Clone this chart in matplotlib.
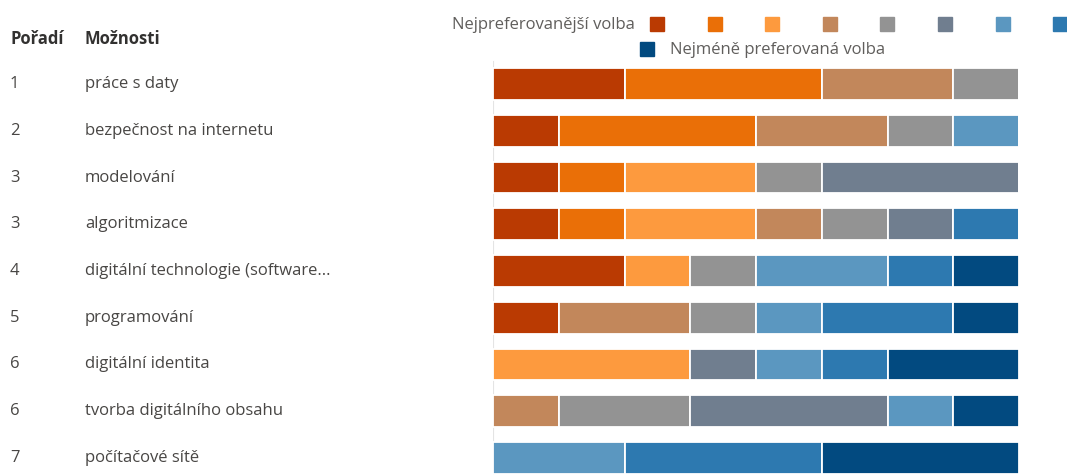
import numpy as np
import matplotlib.pyplot as plt
from matplotlib.patches import Rectangle
from matplotlib.transforms import blended_transform_factory

# data: how many respondents put each option at rank 1..9
poradi = ['1', '2', '3', '3', '4', '5', '6', '6', '7']
moznosti = ['práce s daty', 'bezpečnost na internetu', 'modelování', 'algoritmizace',
            'digitální technologie (software...', 'programování', 'digitální identita',
            'tvorba digitálního obsahu', 'počítačové sítě']
counts = [
    [2, 3, 0, 2, 1, 0, 0, 0, 0],
    [1, 3, 0, 2, 1, 0, 1, 0, 0],
    [1, 1, 2, 0, 1, 3, 0, 0, 0],
    [1, 1, 2, 1, 1, 1, 0, 1, 0],
    [2, 0, 1, 0, 1, 0, 2, 1, 1],
    [1, 0, 0, 2, 1, 0, 1, 2, 1],
    [0, 0, 3, 0, 0, 1, 1, 1, 2],
    [0, 0, 0, 1, 2, 3, 1, 0, 1],
    [0, 0, 0, 0, 0, 0, 2, 3, 3],
]
legend_first = 'Nejpreferovanější volba'
legend_last = 'Nejméně preferovaná volba'

colors = ['#BA3A02', '#EA6F07', '#FD9A3E', '#C2875B', '#939393',
          '#707E8F', '#5B97C0', '#2D79B0', '#024A80']

plt.rcParams['font.family'] = ['Open Sans', 'DejaVu Sans']
W, H = 1067, 475
fs = 12
fig = plt.figure(figsize=(W / 100, H / 100), dpi=100)

# bar area, pixel positions from reference
x0, x1 = 493, 1019
row0, step = 84, 46.75
ax = fig.add_axes([x0 / W, 0, (x1 - x0) / W, 1])
ax.set_xlim(0, 8)
ax.set_ylim((H - row0) / step, -row0 / step)
ax.axis('off')

data = np.array(counts, dtype=float)
ypos = np.arange(len(moznosti))
left = np.zeros(len(moznosti))
for j in range(data.shape[1]):
    ax.barh(ypos, data[:, j], left=left, height=0.68, color=colors[j],
            edgecolor='white', linewidth=1.3)
    left += data[:, j]
ax.plot([0, 0], [-0.5, ypos[-1] + 0.5], color='#e4e4e4', lw=0.8, zorder=0)

# table text
tr = blended_transform_factory(fig.transFigure, ax.transData)
fig.text(10 / W, 1 - 39 / H, 'Pořadí', fontsize=fs, fontweight='bold',
         color='#323130', va='center')
fig.text(85 / W, 1 - 39 / H, 'Možnosti', fontsize=fs, fontweight='bold',
         color='#323130', va='center')
for i, (r, m) in enumerate(zip(poradi, moznosti)):
    ax.text(10 / W, i, r, transform=tr, fontsize=fs, color='#484644', va='center')
    ax.text(85 / W, i, m, transform=tr, fontsize=fs, color='#484644', va='center')

# legend
fig.text(635 / W, 1 - 25 / H, legend_first, fontsize=fs, color='#605e5c',
         ha='right', va='center')
sq = 14
for j in range(8):
    fx = 650 + j * 57.6
    fig.patches.append(Rectangle((fx / W, 1 - (24 + sq / 2) / H), sq / W, sq / H,
                                 transform=fig.transFigure, color=colors[j]))
fig.patches.append(Rectangle((640 / W, 1 - (49 + sq / 2) / H), sq / W, sq / H,
                             transform=fig.transFigure, color=colors[8]))
fig.text(670 / W, 1 - 50 / H, legend_last, fontsize=fs, color='#605e5c',
         ha='left', va='center')

fig.savefig('out.png', dpi=100)
